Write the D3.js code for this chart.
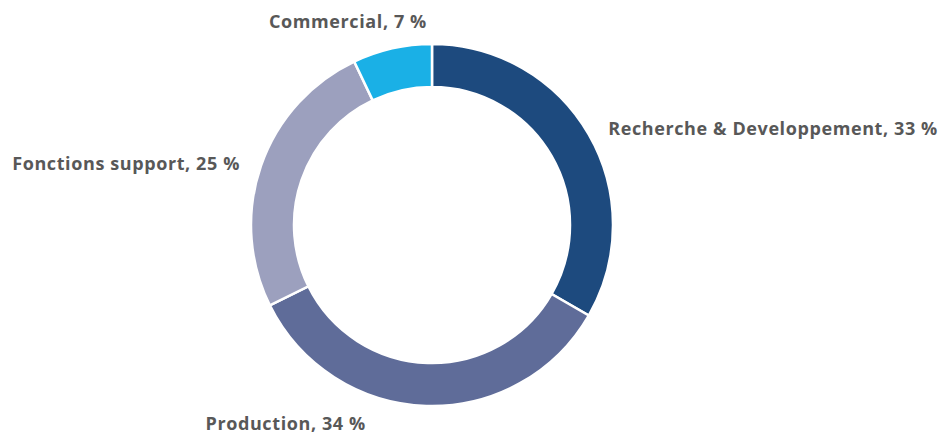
<!DOCTYPE html>
<html>
<head>
<meta charset="utf-8">
<script src="https://cdn.jsdelivr.net/npm/d3@7"></script>
<style>
  body { margin: 0; background: #fff; }
  text { font-family: "Open Sans", sans-serif; font-weight: 700; fill: #585858; }
</style>
</head>
<body>
<div id="chart"></div>
<script>
// data
var categories = ["Recherche & Developpement", "Production", "Fonctions support", "Commercial"];
var shares = [33, 34, 25, 7];
var colors = ["#1d4a7e", "#5f6c99", "#9ca0be", "#1ab0e6"];

var width = 942, height = 436;
var cx = 432, cy = 225;
var outerR = 181, innerR = 138;

var svg = d3.select("#chart").append("svg")
  .attr("width", width).attr("height", height);

var g = svg.append("g").attr("transform", "translate(" + cx + "," + cy + ")");

var pie = d3.pie().sort(null).value(function (d) { return d; });
var arcs = pie(shares);

var arc = d3.arc().innerRadius(innerR).outerRadius(outerR);

g.selectAll("path")
  .data(arcs)
  .enter()
  .append("path")
  .attr("d", arc)
  .attr("fill", function (d, i) { return colors[i]; })
  .attr("stroke", "#fff")
  .attr("stroke-width", 2.5);

// label layout: anchor + nudge per slice, starting from the mid angle
var labelR = 200;
var labelTweak = [
  { anchor: "start", dx: 3, dy: 10 },
  { anchor: "middle", dx: -140, dy: 5 },
  { anchor: "end", dx: -3, dy: 10 },
  { anchor: "middle", dx: -40, dy: -2 }
];

g.selectAll("text.lbl")
  .data(arcs)
  .enter()
  .append("text")
  .attr("class", "lbl")
  .attr("font-size", 18)
  .attr("letter-spacing", 0.6)
  .attr("x", function (d, i) {
    var a = (d.startAngle + d.endAngle) / 2;
    return Math.sin(a) * labelR + labelTweak[i].dx;
  })
  .attr("y", function (d, i) {
    var a = (d.startAngle + d.endAngle) / 2;
    return -Math.cos(a) * labelR + labelTweak[i].dy;
  })
  .attr("text-anchor", function (d, i) { return labelTweak[i].anchor; })
  .text(function (d, i) { return categories[i] + ", " + shares[i] + " %"; });
</script>
</body>
</html>
